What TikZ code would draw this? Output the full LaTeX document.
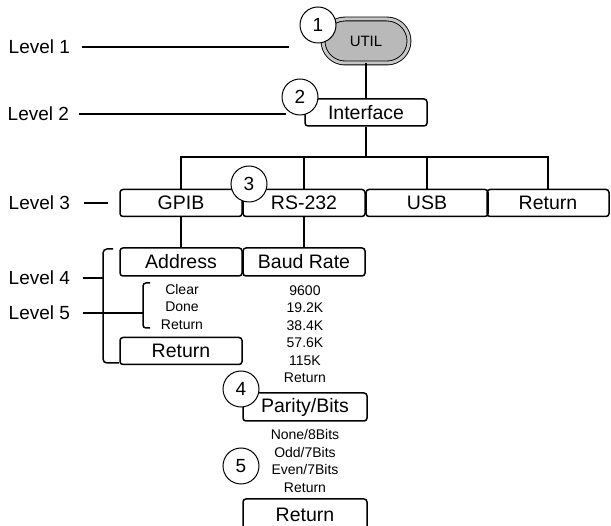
\documentclass[tikz,border=0pt]{standalone}
\usepackage{fontspec}
\setmainfont{Liberation Sans}
\usetikzlibrary{shapes.misc}
\begin{document}
\begin{tikzpicture}[x=1pt,y=-1pt, line width=1.5pt,
  box/.style={draw, rounded corners=3pt, minimum width=122pt, minimum height=27pt, inner sep=0pt, font=\fontsize{19.5}{19.5}\selectfont},
  num/.style={draw, circle, fill=white, minimum size=36pt, inner sep=0pt, line width=1pt, font=\fontsize{19}{19}\selectfont},
  lvl/.style={anchor=west, inner sep=0pt, font=\fontsize{19}{19}\selectfont},
  small/.style={align=center, inner sep=0pt, font=\fontsize{14}{17.5}\selectfont},
  pill/.style={rounded rectangle, draw=black, line width=0.9pt, double=gray!45, double distance=3pt, fill=gray!55, minimum width=86pt, minimum height=44pt, inner sep=0pt, font=\fontsize{15}{15}\selectfont}]
\useasboundingbox (0,0) rectangle (611,526);

% Level 1
\node[pill] (util) at (366,41) {UTIL};
\node[box] (iface) at (366,112.5) {Interface};
\draw (util.south) -- (iface.north);

% Level 3
\node[box] (gpib) at (181,203) {GPIB};
\node[box] (rs) at (304,203) {RS-232};
\node[box] (usb) at (427,203) {USB};
\node[box] (ret3) at (548,203) {Return};
\coordinate (bus) at (366,157);
\draw (iface.south) -- (bus);
\draw (gpib.north) -- (gpib.north |- bus) -- (ret3.north |- bus) -- (ret3.north);
\draw (rs.north) -- (rs.north |- bus);
\draw (usb.north) -- (usb.north |- bus);

% Level 4
\node[box, minimum height=28pt] (addr) at (181,262) {Address};
\node[box, minimum height=28pt] (baud) at (304,262) {Baud Rate};
\draw (gpib.south) -- (addr.north);
\draw (rs.south) -- (baud.north);

\node[small] (gopts) at (182,306.5) {Clear\\Done\\Return};
\node[box] (gret) at (181,351) {Return};
\node[small] (bopts) at (305,334) {9600\\19.2K\\38.4K\\57.6K\\115K\\Return};

\node[box, minimum width=124pt, minimum height=28pt] (par) at (305,407) {Parity/Bits};
\node[small] (popts) at (305,461) {None/8Bits\\Odd/7Bits\\Even/7Bits\\Return};
\node[box, minimum width=124pt, minimum height=32pt] (bret) at (305,515) {Return};

% brackets
\coordinate (bigtop) at (103,249);
\coordinate (bigbot) at (103,363);
\draw[rounded corners=4pt] (113,249) -- (bigtop) -- (bigbot) -- (119,363);
\coordinate (smtop) at (143,283);
\coordinate (smbot) at (143,328);
\draw[rounded corners=3pt] (150,283) -- (smtop) -- (smbot) -- (150,328);

% level labels
\node[lvl] (l1) at (8,47) {Level 1};
\node[lvl] (l2) at (7,114) {Level 2};
\node[lvl] (l3) at (8,203) {Level 3};
\node[lvl] (l4) at (8,278) {Level 4};
\node[lvl] (l5) at (8,313) {Level 5};
\coordinate (e1) at (289,47);
\coordinate (e2) at (286,114);
\coordinate (e3) at (108,203);
\coordinate (e4) at (103,278);
\coordinate (e5) at (143,313);
\draw ([xshift=11pt]l1.east) -- (e1);
\draw ([xshift=9pt]l2.east) -- (e2);
\draw ([xshift=13pt]l3.east) -- (e3);
\draw ([xshift=12pt]l4.east) -- (e4);
\draw ([xshift=12pt]l5.east) -- (e5);

% numbered circles
\node[num] (c1) at (318,25) {1};
\node[num] (c2) at (300,97) {2};
\node[num] (c3) at (249,184) {3};
\node[num] (c4) at (241,389) {4};
\node[num] (c5) at (241,466) {5};
\end{tikzpicture}
\end{document}
